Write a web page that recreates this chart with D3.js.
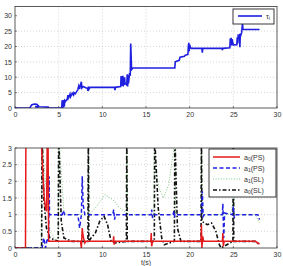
<!DOCTYPE html>
<html>
<head>
<meta charset="utf-8">
<script src="https://cdn.jsdelivr.net/npm/d3@7"></script>
<style>
  body { margin: 0; background: #fff; }
  svg { display: block; font-family: "Liberation Sans", Arial, sans-serif; }
  .tick text { font-size: 7px; fill: #333; }
  .grid line { stroke: #bbb; stroke-width: 0.6; stroke-dasharray: 1,2; }
</style>
</head>
<body>
<svg id="chart" width="283" height="266"></svg>
<script>
// x ticks shared by both plots
var xTicks = [0, 5, 10, 15, 20, 25, 30];
var tauTicks = [0, 5, 10, 15, 20, 25, 30];
var aTicks = [0, 0.5, 1, 1.5, 2, 2.5, 3];

// top plot: tau_i
var tauT = [0, 1.7, 1.9, 2.2, 2.5, 2.7, 2.6, 2.3, 2.8, 3.8, 3.85, 5.35, 5.4, 5.45, 5.5, 5.55, 5.6, 5.65, 5.7, 5.8, 6.0, 6.05, 6.1, 6.3, 6.35, 6.5, 6.55, 6.7, 6.75, 6.9, 7.2, 7.3, 7.4, 7.5, 7.6, 7.65, 7.8, 8.1, 8.3, 8.35, 8.4, 8.45, 8.6, 11.4, 11.45, 11.5, 11.6, 12.1, 12.15, 12.2, 12.25, 12.3, 12.35, 12.4, 12.45, 12.5, 12.55, 12.6, 12.8, 12.85, 12.9, 12.95, 13.0, 13.1, 13.2, 13.25, 13.35, 13.5, 18.3, 18.35, 18.5, 18.8, 18.9, 19.4, 19.5, 19.8, 19.85, 19.9, 19.95, 20.0, 20.1, 20.2, 21.4, 21.45, 21.5, 23.7, 23.75, 23.8, 24.6, 24.65, 24.7, 24.75, 24.8, 24.85, 25.0, 25.4, 25.45, 25.5, 25.55, 25.6, 25.7, 25.75, 25.8, 25.85, 25.95, 26.05, 26.1, 26.2, 26.3, 28.0];
var tauV = [0, 0, 1.0, 1.3, 1.2, 0.6, 0.2, 0.5, 0.4, 0.3, 0, 0, 2.5, 0, 2.6, 0.2, 2.4, 0.5, 2.5, 2.2, 3.0, 4.2, 3.2, 4.5, 3.6, 4.4, 4.8, 4.2, 5.0, 4.6, 6.0, 7.2, 6.2, 7.6, 8.5, 6.5, 7.0, 6.6, 6.4, 5.6, 7.0, 6.0, 6.7, 6.7, 5.8, 6.7, 6.8, 7.0, 10.4, 7.2, 10.2, 7.4, 10.5, 7.0, 9.8, 7.5, 10.0, 8.0, 7.5, 11.0, 7.0, 10.6, 8.0, 11.0, 10.8, 21.0, 12.5, 13.0, 13.0, 15.0, 15.2, 15.5, 16.5, 16.8, 17.2, 17.4, 20.0, 21.2, 18.5, 20.6, 19.6, 19.4, 19.4, 18.0, 19.4, 19.4, 18.8, 19.4, 19.6, 22.6, 20.5, 22.8, 20.3, 22.4, 20.5, 20.6, 23.0, 21.0, 23.4, 23.2, 24.0, 19.8, 24.2, 23.6, 24.5, 27.5, 25.6, 25.5, 25.5, 25.5];

// bottom plot: a0(PS)
var a0psT = [0, 1.2, 1.25, 3.05, 3.2, 3.35, 3.5, 3.62, 3.7, 3.78, 3.85, 7.5, 7.6, 7.7, 7.75, 7.85, 8.0, 8.1, 11.25, 11.3, 11.35, 11.45, 15.55, 15.6, 15.65, 15.75, 21.3, 21.35, 21.4, 21.5, 21.6, 23.75, 23.8, 23.85, 23.95, 27.5, 28.0];
var a0psV = [0, 0, 3.5, 3.0, 2.2, 1.5, 1.2, 1.1, 3.5, 3.5, 0.2, 0.2, 0.0, 0.6, 0.45, 0.3, 0.15, 0.2, 0.2, 0.35, 0.1, 0.2, 0.2, 0.45, 0.05, 0.2, 0.2, 0.7, 0.0, 0.35, 0.2, 0.2, 0.45, 0.05, 0.2, 0.2, 0.12];

// bottom plot: a1(PS)
var a1psT = [0, 3.1, 3.3, 3.5, 3.7, 3.85, 3.9, 3.95, 4.1, 5.4, 5.5, 5.7, 7.2, 7.4, 7.6, 7.7, 7.8, 8.0, 11.2, 11.3, 11.4, 11.5, 15.6, 15.65, 15.75, 15.9, 18.1, 18.2, 18.3, 18.45, 21.35, 21.45, 21.55, 21.65, 23.75, 23.8, 23.9, 24.0, 24.9, 25.0, 25.1, 25.25, 27.8, 27.9, 28.0];
var a1psV = [0, 0, 0.3, 0.0, 0.3, 0.2, 2.15, 1.0, 1.0, 1.0, 1.12, 1.0, 1.0, 0.6, 1.0, 2.15, 1.3, 1.0, 1.0, 1.15, 0.85, 1.0, 1.0, 1.15, 0.9, 1.0, 1.0, 1.12, 0.95, 1.0, 1.0, 1.7, 0.95, 1.0, 1.0, 1.33, 0.3, 1.05, 1.0, 1.25, 0.9, 1.0, 1.0, 0.95, 0.85];

// bottom plot: a1(SL)
var a1slT = [0, 3.0, 3.05, 3.15, 4.0, 4.6, 4.95, 5.0, 5.1, 5.6, 6.0, 8.35, 8.4, 8.5, 9.2, 10.3, 11.2, 12.0, 12.75, 12.8, 12.9, 15.9, 15.95, 16.1, 16.5, 17.0, 17.6, 18.2, 18.3, 18.4, 21.3, 21.35, 21.45, 24.4, 24.8, 24.95, 25.0, 25.1, 27.5, 28.0];
var a1slV = [0, 0, 3.5, 3.0, 0.5, 0.25, 0.3, 3.5, 3.0, 1.1, 1.0, 1.0, 3.5, 1.0, 1.2, 1.6, 1.45, 1.2, 1.05, 3.5, 1.0, 1.0, 3.5, 2.4, 1.8, 1.5, 1.9, 3.0, 3.5, 1.0, 1.0, 3.5, 1.0, 1.0, 1.1, 1.4, 3.5, 1.0, 1.0, 0.75];

// bottom plot: a0(SL)
var a0slT = [0, 3.05, 3.1, 3.15, 3.3, 3.6, 4.0, 4.95, 5.0, 5.05, 5.3, 5.6, 6.5, 8.35, 8.4, 8.45, 8.7, 9.2, 9.7, 10.2, 10.6, 11.0, 11.5, 12.75, 12.8, 12.85, 15.95, 16.0, 16.05, 16.4, 16.8, 17.1, 18.25, 18.3, 18.35, 18.6, 19.0, 21.3, 21.35, 21.4, 22.0, 22.5, 23.0, 23.4, 23.6, 24.95, 25.0, 25.05, 27.5, 28.0];
var a0slV = [0, 0, 3.5, 3.0, 1.5, 0.6, 0.3, 0.2, 3.5, 3.0, 0.8, 0.3, 0.2, 0.2, 3.5, 0.2, 0.3, 0.45, 0.8, 0.95, 0.7, 0.2, 0.15, 0.2, 3.5, 0.2, 0.2, 3.5, 3.0, 1.2, 0.3, 0.1, 0.2, 3.5, 3.0, 0.6, 0.2, 0.2, 3.5, 0.8, 0.7, 0.75, 0.5, 0.1, 0.0, 0.2, 3.5, 0.2, 0.2, 0.1];

var legendTop = ["τ"];
var legendBottom = ["a0(PS)", "a1(PS)", "a1(SL)", "a0(SL)"];

var svg = d3.select("#chart");
var left = 15, right = 277;

function zip(ts, vs) {
  return ts.map(function (t, i) { return [t, vs[i]]; });
}

function drawAxes(g, x, y, yTicks, top, bottom, id) {
  // grid
  g.append("g").attr("class", "grid")
    .selectAll("line.v").data(xTicks.slice(1, -1)).enter().append("line")
    .attr("x1", function (d) { return x(d); }).attr("x2", function (d) { return x(d); })
    .attr("y1", top).attr("y2", bottom);
  g.append("g").attr("class", "grid")
    .selectAll("line.h").data(yTicks.slice(1, -1)).enter().append("line")
    .attr("x1", left).attr("x2", right)
    .attr("y1", function (d) { return y(d); }).attr("y2", function (d) { return y(d); });

  g.append("g")
    .attr("transform", "translate(0," + bottom + ")")
    .call(d3.axisBottom(x).tickValues(xTicks).tickSize(0).tickPadding(4).tickFormat(d3.format("d")))
    .call(function (a) { a.select(".domain").remove(); });
  g.append("g")
    .attr("transform", "translate(" + left + ",0)")
    .call(d3.axisLeft(y).tickValues(yTicks).tickSize(0).tickPadding(3).tickFormat(function (d) { return d; }))
    .call(function (a) { a.select(".domain").remove(); });

  // small inward tick marks
  g.selectAll(null).data(xTicks).enter().append("line")
    .attr("x1", function (d) { return x(d); }).attr("x2", function (d) { return x(d); })
    .attr("y1", bottom).attr("y2", bottom - 2).attr("stroke", "#333").attr("stroke-width", 0.6);
  g.selectAll(null).data(yTicks).enter().append("line")
    .attr("x1", left).attr("x2", left + 2)
    .attr("y1", function (d) { return y(d); }).attr("y2", function (d) { return y(d); })
    .attr("stroke", "#333").attr("stroke-width", 0.6);

  g.append("clipPath").attr("id", id)
    .append("rect").attr("x", left).attr("y", top).attr("width", right - left).attr("height", bottom - top);
}

function frame(g, top, bottom) {
  g.append("rect")
    .attr("x", left).attr("y", top).attr("width", right - left).attr("height", bottom - top)
    .attr("fill", "none").attr("stroke", "#333").attr("stroke-width", 0.8);
}

// ---- top plot
var x1 = d3.scaleLinear().domain([0, 30]).range([left, right]);
var y1 = d3.scaleLinear().domain([0, 33]).range([108, 6.5]);
var g1 = svg.append("g");
drawAxes(g1, x1, y1, tauTicks, 6.5, 108, "clipTop");

var line1 = d3.line().x(function (d) { return x1(d[0]); }).y(function (d) { return y1(d[1]); });
g1.append("path")
  .datum(zip(tauT, tauV))
  .attr("clip-path", "url(#clipTop)")
  .attr("d", line1)
  .attr("fill", "none").attr("stroke", "#1f1fe0").attr("stroke-width", 1.6);
frame(g1, 6.5, 108);

// legend top
var lg1 = g1.append("g");
lg1.append("rect").attr("x", 233).attr("y", 9).attr("width", 41).attr("height", 15)
  .attr("fill", "#fff").attr("stroke", "#222").attr("stroke-width", 0.9);
lg1.append("line").attr("x1", 238).attr("x2", 262).attr("y1", 16).attr("y2", 16)
  .attr("stroke", "#1f1fe0").attr("stroke-width", 1.6);
var tt = lg1.append("text").attr("x", 266).attr("y", 18.5).attr("font-size", 7).attr("fill", "#333").text(legendTop[0]);
tt.append("tspan").attr("font-size", 5).attr("dy", 1.5).text("i");

// ---- bottom plot
var x2 = d3.scaleLinear().domain([0, 30]).range([left, right]);
var y2 = d3.scaleLinear().domain([0, 3]).range([248, 148]);
var g2 = svg.append("g");
drawAxes(g2, x2, y2, aTicks, 148, 248, "clipBottom");

var line2 = d3.line().x(function (d) { return x2(d[0]); }).y(function (d) { return y2(d[1]); });
var series = [
  { t: a1slT, v: a1slV, color: "#4caf50", width: 0.7, dash: "1,1.6" },
  { t: a0slT, v: a0slV, color: "#111", width: 1.6, dash: "4,2,1.5,2" },
  { t: a1psT, v: a1psV, color: "#1f1fe0", width: 1.5, dash: "4,2.5" },
  { t: a0psT, v: a0psV, color: "#e41a1c", width: 1.5, dash: null }
];
g2.selectAll("path.s").data(series).enter().append("path")
  .attr("class", "s")
  .attr("clip-path", "url(#clipBottom)")
  .attr("d", function (s) { return line2(zip(s.t, s.v)); })
  .attr("fill", "none")
  .attr("stroke", function (s) { return s.color; })
  .attr("stroke-width", function (s) { return s.width; })
  .attr("stroke-dasharray", function (s) { return s.dash; });
frame(g2, 148, 248);

g2.append("text").attr("x", 146).attr("y", 265).attr("text-anchor", "middle")
  .attr("font-size", 7).attr("fill", "#333").text("t(s)");

// legend bottom
var legSty = [series[3], series[2], series[0], series[1]];
var lg2 = g2.append("g");
lg2.append("rect").attr("x", 209).attr("y", 149).attr("width", 67).attr("height", 48)
  .attr("fill", "#fff").attr("stroke", "#222").attr("stroke-width", 0.9);
legendBottom.forEach(function (lab, i) {
  var yy = 157 + i * 11;
  var s = legSty[i];
  lg2.append("line").attr("x1", 213).attr("x2", 240).attr("y1", yy).attr("y2", yy)
    .attr("stroke", s.color).attr("stroke-width", s.width).attr("stroke-dasharray", s.dash);
  var t = lg2.append("text").attr("x", 244).attr("y", yy + 2.5)
    .attr("font-size", 7).attr("fill", "#333");
  t.append("tspan").text(lab.charAt(0));
  t.append("tspan").attr("font-size", 5).attr("dy", 1.5).text(lab.charAt(1));
  t.append("tspan").attr("dy", -1.5).text(lab.slice(2));
});
</script>
</body>
</html>
